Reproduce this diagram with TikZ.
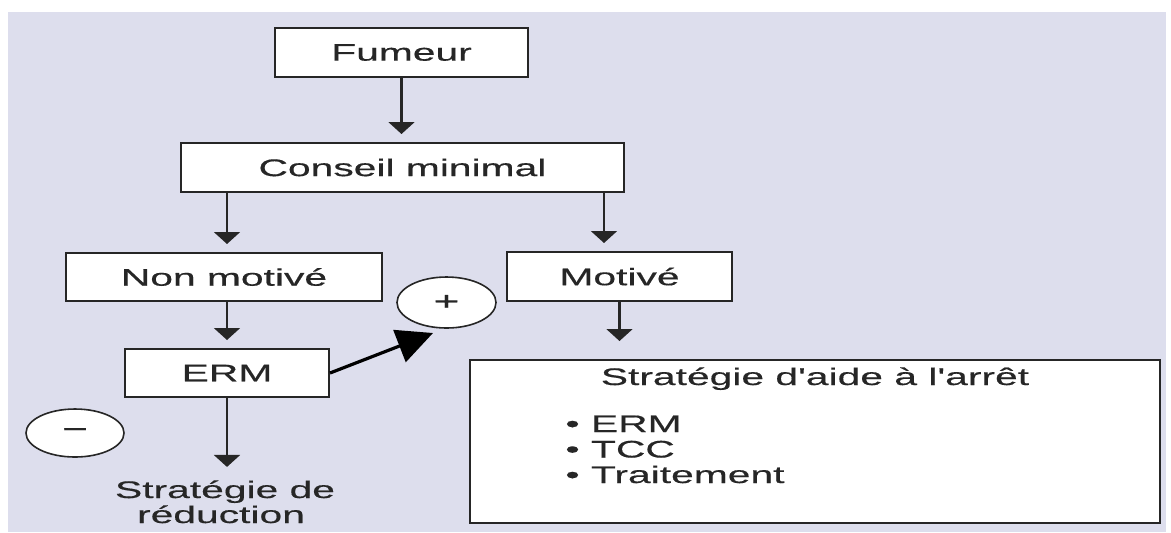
\documentclass[tikz,border=0pt]{standalone}
\usepackage{fontspec}
\setmainfont[FakeStretch=1.7,FakeBold=0.4,Ligatures=TeXOff]{Liberation Sans}
\usetikzlibrary{arrows.meta,shapes.geometric}
\definecolor{bg}{RGB}{221,222,237}
\definecolor{ink}{RGB}{38,38,38}
\begin{document}
\begin{tikzpicture}[x=0.5pt,y=-0.5pt,
  box/.style={draw=ink,line width=1pt,fill=white,inner sep=0pt,
    font=\fontsize{12}{14}\selectfont,text=ink},
  sign/.style={ellipse,draw=ink,line width=0.8pt,fill=white,inner sep=0pt,
    font=\fontsize{13}{14}\selectfont,text=ink},
  txt/.style={inner sep=0pt,font=\fontsize{12}{14}\selectfont,text=ink},
  arr/.style={draw=ink,line width=1.1pt,-{Triangle[width=13pt,length=6pt]},shorten >=4pt},
  bigarr/.style={draw=black,line width=1.6pt,-{Triangle[width=17pt,length=18pt]}}]
\useasboundingbox (0,0) rectangle (1171,532);
\fill[white] (0,0) rectangle (1171,532);
\fill[bg] (8,12) rectangle (1166,532);

\node[box,minimum width=126.5pt,minimum height=24.5pt] (fumeur) at (401.5,52.5) {Fumeur};
\node[box,minimum width=221.5pt,minimum height=24.5pt] (conseil) at (402.5,167.5) {Conseil minimal};
\node[box,minimum width=158pt,minimum height=24pt] (nonmot) at (224,277) {Non motivé};
\node[box,minimum width=112.5pt,minimum height=24.5pt] (motive) at (619.5,276.5) {Motivé};
\node[box,minimum width=102pt,minimum height=24pt] (erm) at (227,373) {ERM};
\node[box,minimum width=345pt,minimum height=81.5pt] (big) at (815,441.5) {};
\node[sign,minimum width=49.5pt,minimum height=25.5pt] (plus) at (446.5,302.5) {+};
\node[sign,minimum width=49pt,minimum height=24pt] (minus) at (75,433) {\char"2212};

\node[txt,anchor=base] (title) at (815,385) {Stratégie d'aide à l'arrêt};
\node[txt,anchor=base west] (item1) at (565,432) {• ERM};
\node[txt,anchor=base west] (item2) at (565,457.5) {• TCC};
\node[txt,anchor=base west] (item3) at (565,483) {• Traitement};

\node[txt,anchor=base] (red1) at (225,498) {Stratégie de};
\node[txt,anchor=base] (red2) at (221,523) {réduction};

\coordinate (ptip) at (433,333);

\draw[arr] (fumeur.south) -- (fumeur.south |- conseil.north);
\draw[arr] ([xshift=1.5pt]nonmot.north |- conseil.south) -- ([xshift=1.5pt]nonmot.north);
\draw[arr] ([xshift=-7.75pt]motive.north |- conseil.south) -- ([xshift=-7.75pt]motive.north);
\draw[arr] (erm.north |- nonmot.south) -- (erm.north);
\draw[arr,shorten >=9pt] (motive.south) -- (motive.south |- big.north);
\draw[arr,shorten >=6.5pt] (erm.south) -- (erm.south |- red1.north);
\draw[bigarr] (erm.east) -- (ptip);
\end{tikzpicture}
\end{document}
